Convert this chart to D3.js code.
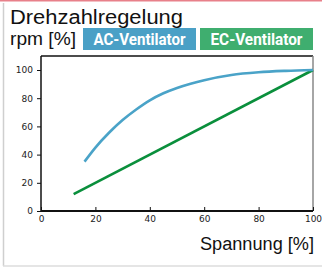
<!DOCTYPE html>
<html>
<head>
<meta charset="utf-8">
<script src="https://cdn.jsdelivr.net/npm/d3@7"></script>
<style>
	body { margin: 0; background: #fff; }
	svg { display: block; font-family: "Liberation Sans", Arial, sans-serif; }
	.tick text { font-size: 9px; fill: #222; font-family: "DejaVu Sans", sans-serif; }
</style>
</head>
<body>
<svg id="chart" width="322" height="268"></svg>
<script>
const acVoltage = [16, 20, 25, 30, 35, 40, 45, 50, 55, 60, 70, 80, 90, 100];
const acRpm = [35, 45, 55.5, 64.5, 72, 78.5, 83.5, 87.3, 90.3, 92.8, 96.5, 98.4, 99.4, 100];
const ecVoltage = [12, 100];
const ecRpm = [12, 100];
const tickValues = [0, 20, 40, 60, 80, 100];
const legendNames = ["AC-Ventilator", "EC-Ventilator"];

const w = 322;
const h = 268;
const plotLeft = 41, plotRight = 313, plotTop = 56, plotBottom = 211;

const svg = d3.select('#chart');

// outer frame
svg.append('line').attr('x1', 0).attr('x2', w).attr('y1', 0.75).attr('y2', 0.75)
	.attr('stroke', '#e8808a').attr('stroke-width', 1.5);
svg.append('line').attr('x1', 3.5).attr('x2', 3.5).attr('y1', 3).attr('y2', 266)
	.attr('stroke', '#cfcfcf').attr('stroke-width', 1.5);
svg.append('line').attr('x1', 3).attr('x2', w).attr('y1', 266).attr('y2', 266)
	.attr('stroke', '#dcdcdc').attr('stroke-width', 1.5);

svg.append('text').attr('x', 10).attr('y', 24)
	.attr('textLength', 173).attr('lengthAdjust', 'spacingAndGlyphs')
	.style('font-size', '20px').style('fill', '#111')
	.text('Drehzahlregelung');

svg.append('text').attr('x', 10).attr('y', 45)
	.attr('textLength', 66).attr('lengthAdjust', 'spacingAndGlyphs')
	.style('font-size', '18px').style('fill', '#111')
	.text('rpm [%]');

const legendColors = ['#4aa0c6', '#3fae6f'];
legendNames.forEach((name, i) => {
	const x0 = 83 + i * 117;
	svg.append('rect').attr('x', x0).attr('y', 28).attr('width', 113).attr('height', 22)
		.attr('fill', legendColors[i]);
	svg.append('text').attr('x', x0 + 56.5).attr('y', 45)
		.attr('text-anchor', 'middle')
		.attr('textLength', 92).attr('lengthAdjust', 'spacingAndGlyphs')
		.style('font-size', '16px').style('font-weight', 'bold').style('fill', '#fff')
		.style('font-family', 'Roboto, sans-serif')
		.text(name);
});

const xScale = d3.scaleLinear().domain([0, 100]).range([plotLeft, plotRight]);
const yScale = d3.scaleLinear().domain([0, 100]).range([plotBottom, 70]);

// plot frame
svg.append('line').attr('x1', plotLeft).attr('x2', plotRight).attr('y1', plotTop).attr('y2', plotTop)
	.attr('stroke', '#111').attr('stroke-width', 1.5);
svg.append('line').attr('x1', plotRight).attr('x2', plotRight).attr('y1', plotTop).attr('y2', plotBottom)
	.attr('stroke', '#888').attr('stroke-width', 1.5);

const yAxis = d3.axisLeft(yScale).tickValues(tickValues).tickSize(4).tickPadding(4);
const gy = svg.append('g').attr('transform', `translate(${plotLeft},0)`).call(yAxis);
gy.select('.domain').attr('d', `M0,${plotTop}V${plotBottom}`).attr('stroke', '#111').attr('stroke-width', 1.5);
gy.selectAll('.tick line').attr('stroke', '#111');

const xAxis = d3.axisBottom(xScale).tickValues(tickValues).tickSize(-4).tickPadding(5);
const gx = svg.append('g').attr('transform', `translate(0,${plotBottom})`).call(xAxis);
gx.select('.domain').attr('d', `M${plotLeft},0H${plotRight}`).attr('stroke', '#111').attr('stroke-width', 2.2);
gx.selectAll('.tick line').attr('stroke', '#111');

const line = d3.line()
	.x(d => xScale(d[0]))
	.y(d => yScale(d[1]))
	.curve(d3.curveMonotoneX);

svg.append('path')
	.datum(ecVoltage.map((v, i) => [v, ecRpm[i]]))
	.attr('d', line)
	.attr('fill', 'none').attr('stroke', '#0a8f3c').attr('stroke-width', 2.6);

svg.append('path')
	.datum(acVoltage.map((v, i) => [v, acRpm[i]]))
	.attr('d', line)
	.attr('fill', 'none').attr('stroke', '#4aa3c8').attr('stroke-width', 2.6);

svg.append('text').attr('x', 314).attr('y', 250)
	.attr('text-anchor', 'end')
	.attr('textLength', 114).attr('lengthAdjust', 'spacingAndGlyphs')
	.style('font-size', '18px').style('fill', '#111')
	.text('Spannung [%]');
</script>
</body>
</html>
